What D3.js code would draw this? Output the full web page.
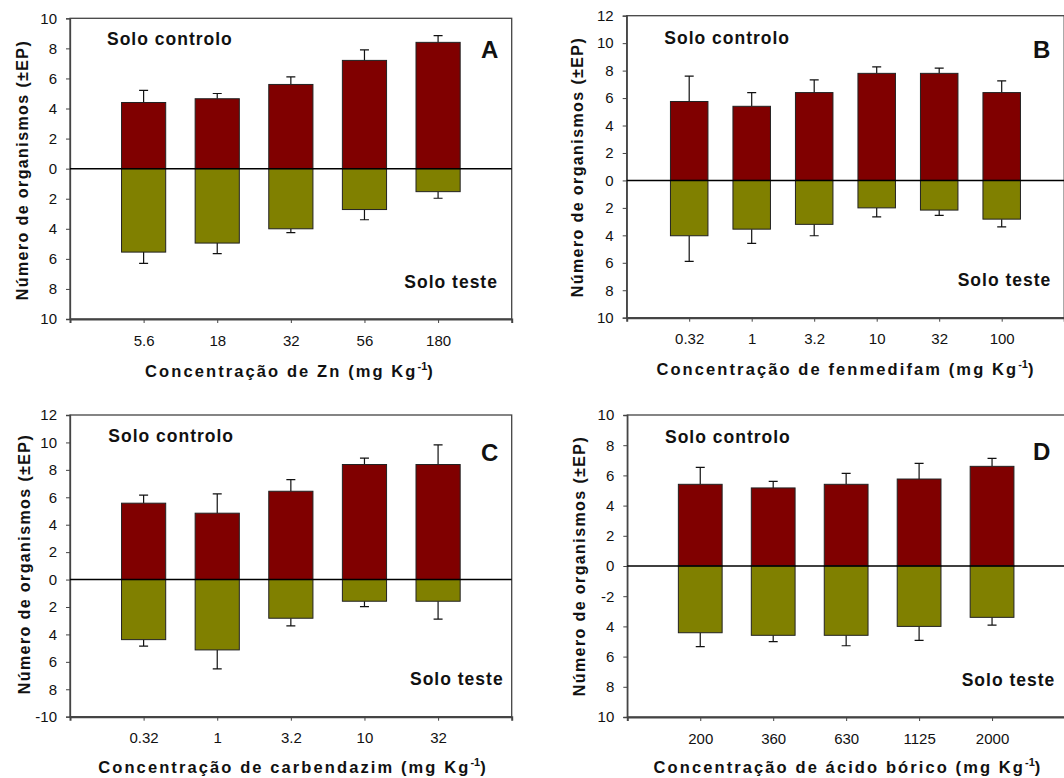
<!DOCTYPE html>
<html>
<head>
<meta charset="utf-8">
<script src="https://cdn.jsdelivr.net/npm/d3@7"></script>
<style>
  html, body { margin: 0; padding: 0; background: #fff; }
  svg { display: block; }
  text { font-family: "Liberation Sans", Arial, sans-serif; fill: #111; }
</style>
</head>
<body>
<svg id="chart" width="1064" height="778"></svg>
<script>
// ---------- DATA ----------
const aCats = ["5.6", "18", "32", "56", "180"];
const aControl = [4.4, 4.65, 5.6, 7.2, 8.4];
const aControlSE = [0.8, 0.35, 0.5, 0.7, 0.45];
const aTest = [5.55, 4.95, 4.0, 2.72, 1.53];
const aTestSE = [0.75, 0.7, 0.25, 0.68, 0.44];
const aTickLabels = ["10", "8", "6", "4", "2", "0", "2", "4", "6", "8", "10"];

const bCats = ["0.32", "1", "3.2", "10", "32", "100"];
const bControl = [5.75, 5.4, 6.4, 7.8, 7.8, 6.4];
const bControlSE = [1.85, 1.0, 0.93, 0.47, 0.38, 0.85];
const bTest = [4.03, 3.55, 3.2, 2.0, 2.16, 2.82];
const bTestSE = [1.87, 1.04, 0.83, 0.65, 0.39, 0.56];
const bTickLabels = ["12", "10", "8", "6", "4", "2", "0", "2", "4", "6", "8", "10"];

const cCats = ["0.32", "1", "3.2", "10", "32"];
const cControl = [5.57, 4.84, 6.44, 8.39, 8.39];
const cControlSE = [0.58, 1.41, 0.85, 0.46, 1.43];
const cTest = [4.38, 5.13, 2.82, 1.58, 1.58];
const cTestSE = [0.48, 1.38, 0.56, 0.39, 1.31];
const cTickLabels = ["12", "10", "8", "6", "4", "2", "0", "2", "4", "6", "8", "-10"];

const dCats = ["200", "360", "630", "1125", "2000"];
const dControl = [5.41, 5.17, 5.41, 5.76, 6.6];
const dControlSE = [1.12, 0.44, 0.73, 1.04, 0.53];
const dTest = [4.42, 4.59, 4.59, 4.0, 3.4];
const dTestSE = [0.92, 0.42, 0.69, 0.92, 0.51];
const dTickLabels = ["10", "8", "6", "4", "2", "0", "-2", "4", "6", "8", "10"];

const yTitle = "Número de organismos (±EP)";
const controlLabel = "Solo controlo";
const testLabel = "Solo teste";

// ---------- LAYOUT ----------
const panels = [
  { letter: "A", cats: aCats, control: aControl, controlSE: aControlSE, test: aTest, testSE: aTestSE,
    ticks: aTickLabels, yMax: 10, yMin: -10, xTitle: "Concentração de Zn (mg Kg", 
    box: { l: 70, t: 18.3, r: 511.7, b: 319 },
    ctrlPos: [107, 45], testPos: [404.3, 288], letterPos: [481, 58], xTitlePos: [290, 377], yTitlePos: [28, 170] },
  { letter: "B", cats: bCats, control: bControl, controlSE: bControlSE, test: bTest, testSE: bTestSE,
    ticks: bTickLabels, yMax: 12, yMin: -10, xTitle: "Concentração de fenmedifam (mg Kg",
    box: { l: 626.7, t: 15.7, r: 1064.2, b: 317.7 },
    ctrlPos: [664.3, 44], testPos: [957.7, 286], letterPos: [1033, 58], xTitlePos: [846, 375], yTitlePos: [583, 167] },
  { letter: "C", cats: cCats, control: cControl, controlSE: cControlSE, test: cTest, testSE: cTestSE,
    ticks: cTickLabels, yMax: 12, yMin: -10, xTitle: "Concentração de carbendazim (mg Kg",
    box: { l: 70, t: 415, r: 511.7, b: 716.7 },
    ctrlPos: [108.3, 442.3], testPos: [410, 685], letterPos: [481, 461], xTitlePos: [293, 773], yTitlePos: [30, 564] },
  { letter: "D", cats: dCats, control: dControl, controlSE: dControlSE, test: dTest, testSE: dTestSE,
    ticks: dTickLabels, yMax: 10, yMin: -10, xTitle: "Concentração de ácido bórico (mg Kg",
    box: { l: 627.3, t: 415, r: 1065, b: 717 },
    ctrlPos: [665, 442.7], testPos: [961.7, 686], letterPos: [1033, 460], xTitlePos: [848, 772.7], yTitlePos: [585, 566] }
];

const svg = d3.select("#chart");
const CONTROL_COLOR = "#800000";
const TEST_COLOR = "#808000";

panels.forEach(p => {
  const g = svg.append("g");
  const { l, t, r, b } = p.box;
  const x = d3.scalePoint().domain(p.cats).range([l, r]).padding(1);
  const y = d3.scaleLinear().domain([p.yMin, p.yMax]).range([b, t]);
  const bw = x.step() * 0.6;

  // frame (top, right, left)
  g.append("rect").attr("x", l).attr("y", t).attr("width", r - l).attr("height", b - t)
    .attr("fill", "none").attr("stroke", "#444").attr("stroke-width", 1.3);

  // y axis
  const yTickVals = d3.range(p.yMax, p.yMin - 0.001, -2);
  const yAxis = d3.axisLeft(y).tickValues(yTickVals).tickSize(4).tickPadding(9)
    .tickFormat((d, i) => p.ticks[i]);
  const ya = g.append("g").attr("transform", `translate(${l},0)`).call(yAxis);
  ya.select(".domain").attr("stroke", "#444").attr("stroke-width", 1.3);
  ya.selectAll(".tick line").attr("stroke", "#444");
  ya.selectAll(".tick text").attr("font-size", 15).attr("font-family", "Liberation Sans, Arial, sans-serif").attr("fill", "#111");

  // x axis
  const xAxis = d3.axisBottom(x).tickSize(4).tickPadding(12);
  const xa = g.append("g").attr("transform", `translate(0,${b})`).call(xAxis);
  xa.select(".domain").attr("stroke", "#444").attr("stroke-width", 2);
  xa.selectAll(".tick line").attr("stroke", "#444");
  xa.selectAll(".tick text").attr("font-size", 15).attr("font-family", "Liberation Sans, Arial, sans-serif").attr("fill", "#111");

  const rows = p.cats.map((c, i) => ({ c, ctrl: p.control[i], cse: p.controlSE[i], test: p.test[i], tse: p.testSE[i] }));

  // error bars control
  g.selectAll(".errC").data(rows).enter().append("path")
    .attr("d", d => {
      const cx = x(d.c), y0 = y(d.ctrl), y1 = y(d.ctrl + d.cse);
      return `M${cx},${y0}V${y1}M${cx - 4.5},${y1}H${cx + 4.5}`;
    })
    .attr("stroke", "#111").attr("stroke-width", 1.2).attr("fill", "none");
  // error bars test
  g.selectAll(".errT").data(rows).enter().append("path")
    .attr("d", d => {
      const cx = x(d.c), y0 = y(-d.test), y1 = y(-(d.test + d.tse));
      return `M${cx},${y0}V${y1}M${cx - 4.5},${y1}H${cx + 4.5}`;
    })
    .attr("stroke", "#111").attr("stroke-width", 1.2).attr("fill", "none");

  g.selectAll(".barC").data(rows).enter().append("rect")
    .attr("x", d => x(d.c) - bw / 2).attr("width", bw)
    .attr("y", d => y(d.ctrl)).attr("height", d => y(0) - y(d.ctrl))
    .attr("fill", CONTROL_COLOR).attr("stroke", "#222").attr("stroke-width", 1);
  g.selectAll(".barT").data(rows).enter().append("rect")
    .attr("x", d => x(d.c) - bw / 2).attr("width", bw)
    .attr("y", y(0)).attr("height", d => y(-d.test) - y(0))
    .attr("fill", TEST_COLOR).attr("stroke", "#222").attr("stroke-width", 1);

  // zero line
  g.append("line").attr("x1", l).attr("x2", r).attr("y1", y(0)).attr("y2", y(0))
    .attr("stroke", "#000").attr("stroke-width", 1.5);

  // labels
  g.append("text").attr("x", p.ctrlPos[0]).attr("y", p.ctrlPos[1])
    .attr("font-size", 17.5).attr("font-weight", "bold").attr("letter-spacing", 1).text(controlLabel);
  g.append("text").attr("x", p.testPos[0]).attr("y", p.testPos[1])
    .attr("font-size", 17.5).attr("font-weight", "bold").attr("letter-spacing", 1).text(testLabel);
  g.append("text").attr("x", p.letterPos[0]).attr("y", p.letterPos[1])
    .attr("font-size", 24).attr("font-weight", "bold").attr("font-family", "Open Sans, sans-serif").text(p.letter);

  // x title
  const xt = g.append("text").attr("x", p.xTitlePos[0]).attr("y", p.xTitlePos[1])
    .attr("text-anchor", "middle").attr("font-size", 16.5).attr("font-weight", "bold").attr("letter-spacing", 2.1);
  xt.append("tspan").text(p.xTitle);
  xt.append("tspan").attr("font-size", 11).attr("dy", -7).attr("letter-spacing", 0).text("-1");
  xt.append("tspan").attr("dy", 7).text(")");

  // y title
  g.append("text").attr("transform", `translate(${p.yTitlePos[0]},${p.yTitlePos[1]}) rotate(-90)`)
    .attr("text-anchor", "middle").attr("font-size", 16).attr("font-weight", "bold").attr("letter-spacing", 1.4)
    .text(yTitle);
});
</script>
</body>
</html>
